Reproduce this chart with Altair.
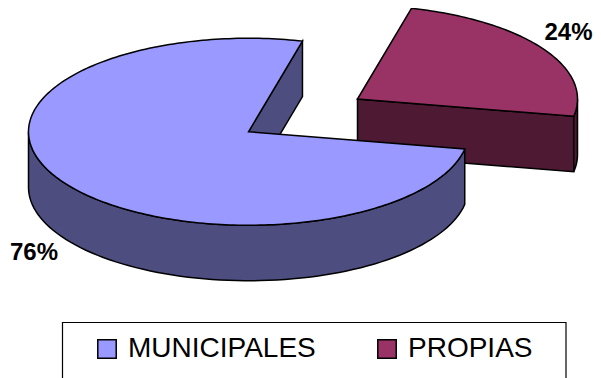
import math
import altair as alt

categories = ["MUNICIPALES", "PROPIAS"]
shares = [76, 24]
top_colors = ["#9999ff", "#993366"]
side_colors = ["#4d4d80", "#4d1933"]
first_slice_start = 14.2   # degrees clockwise from top, where PROPIAS starts
centers = {"MUNICIPALES": (240.5, 123.75), "PROPIAS": (349.5, 91)}
RX, RY, DEPTH = 220, 93.5, 55.5


def pt(c, deg, dy=0):
    t = math.radians(deg)
    return [c[0] + RX * math.sin(t), c[1] - RY * math.cos(t) + dy]


def arc(c, a, b, dy=0, n=80):
    return [pt(c, a + (b - a) * i / n, dy) for i in range(n + 1)]


def feature(coords, cat, fill):
    return {"type": "Feature",
            "geometry": {"type": "Polygon", "coordinates": [coords + [coords[0]]]},
            "properties": {"serie": cat, "fill": fill}}


p_a = first_slice_start
p_b = p_a + shares[1] * 3.6
m_a, m_b = p_b, p_a + 360
mc, pc = centers["MUNICIPALES"], centers["PROPIAS"]

sides = [
    feature([list(pc), pt(pc, p_b), pt(pc, p_b, DEPTH), [pc[0], pc[1] + DEPTH]], "PROPIAS", side_colors[1]),
    feature(arc(pc, 90, p_b) + arc(pc, p_b, 90, DEPTH), "PROPIAS", side_colors[1]),
    feature(arc(mc, m_a, 270) + arc(mc, 270, m_a, DEPTH), "MUNICIPALES", side_colors[0]),
    feature([list(mc), pt(mc, m_b), pt(mc, m_b, DEPTH), [mc[0], mc[1] + DEPTH]], "MUNICIPALES", side_colors[0]),
]
tops = [
    feature([list(pc)] + arc(pc, p_a, p_b), "PROPIAS", top_colors[1]),
    feature([list(mc)] + arc(mc, m_a, m_b, n=240), "MUNICIPALES", top_colors[0]),
]

proj = dict(type="identity", scale=1, translate=[0, 0])

side_layer = (
    alt.Chart(alt.Data(values=sides))
    .mark_geoshape(stroke="black", strokeWidth=1.5)
    .project(**proj)
    .encode(color=alt.Color("properties.fill:N", scale=None, legend=None))
)
top_layer = (
    alt.Chart(alt.Data(values=tops))
    .mark_geoshape(stroke="black", strokeWidth=1.5)
    .project(**proj)
    .encode(color=alt.Color(
        "properties.serie:N",
        scale=alt.Scale(domain=categories, range=top_colors),
        legend=alt.Legend(
            title=None, orient="none", legendX=85, legendY=327, direction="horizontal",
            symbolType="square", symbolSize=340, symbolStrokeColor="black", symbolStrokeWidth=1.5,
            symbolOpacity=1, labelFont="Liberation Sans", labelFontSize=28, labelColor="black",
            labelOffset=7, columnPadding=57, labelLimit=300, padding=0,
        ),
    ))
)
frame = alt.Chart(alt.Data(values=[{"a": 0}])).mark_rect(
    fill="white", stroke="black", strokeWidth=1.2
).encode(x=alt.value(54.5), x2=alt.value(558), y=alt.value(314.5), y2=alt.value(400))

labels_df = [
    {"t": f"{shares[0]}%", "x": 26, "y": 245},
    {"t": f"{shares[1]}%", "x": 560.5, "y": 25},
]
labels = alt.Chart(alt.Data(values=labels_df)).mark_text(
    font="Liberation Sans", fontWeight="bold", fontSize=24, color="black"
).encode(x=alt.X("x:Q", scale=None), y=alt.Y("y:Q", scale=None), text="t:N")

chart = (
    alt.layer(frame, side_layer, top_layer, labels)
    .resolve_scale(color="independent")
    .properties(width=585, height=370, autosize=alt.AutoSizeParams(type="none"), padding=0)
    .configure_view(stroke=None)
)
chart.save("out.html", embed_options={"renderer": "svg", "actions": False})
